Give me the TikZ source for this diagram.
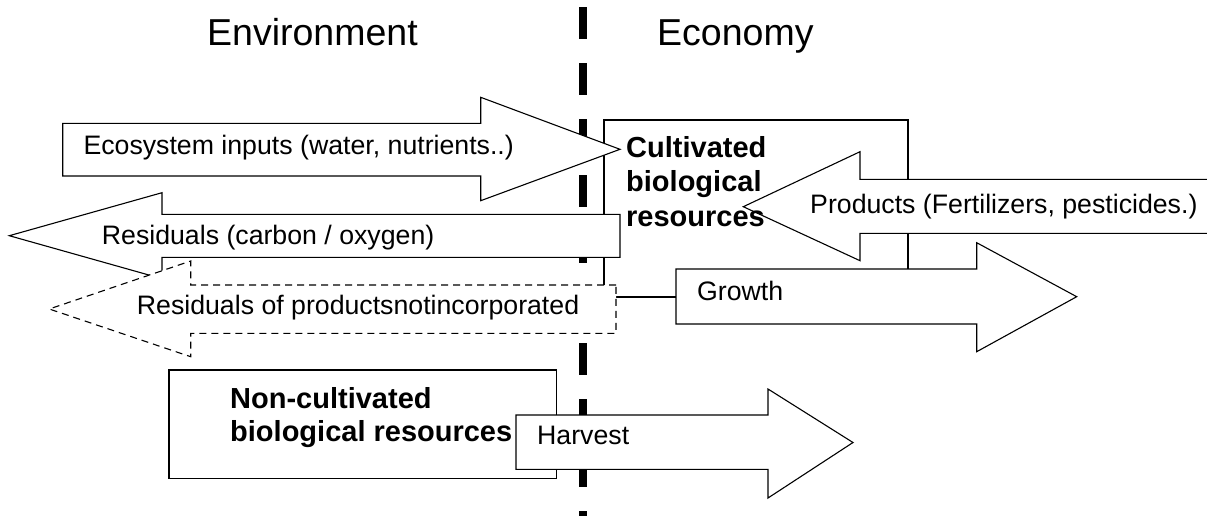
\documentclass[tikz,border=0pt]{standalone}
\usepackage{fontspec}
\setmainfont{Liberation Sans}
\tikzset{
  block/.style={draw, line width=1.1pt, fill=white, line join=miter},
  dblock/.style={block, dash pattern=on 7pt off 5pt},
  txt/.style={anchor=base west, inner sep=0pt, font=\fontsize{26.7}{32}\selectfont},
  boldtxt/.style={txt, font=\fontsize{29}{34}\selectfont\bfseries},
  headtxt/.style={txt, font=\fontsize{37.5}{42}\selectfont}
}
\begin{document}
\begin{tikzpicture}[x=1pt,y=-1pt]
  \useasboundingbox (0,0) rectangle (1207,515);
  % border between environment and economy
  \draw[line width=8pt, dash pattern=on 32pt off 24pt] (583.3,7) -- (583.3,530);
  \node[headtxt] (env) at (207,45) {Environment};
  \node[headtxt] (econ) at (657,45) {Economy};
  % cultivated resources box
  \draw[block] (604,120) rectangle (908,297);
  % ecosystem inputs (to the right)
  \draw[block] (62.7,123.3) -- (480.7,123.3) -- (480.7,97.3) -- (620,149.3)
    -- (480.7,200.7) -- (480.7,176) -- (62.7,176) -- cycle;
  % residuals (to the left)
  \draw[block] (620,214.3) -- (162,214.3) -- (162,192.7) -- (9.3,235.7)
    -- (162,278.7) -- (162,257.3) -- (620,257.3) -- cycle;
  % products (to the left, from outside the page)
  \draw[block] (1209,179.3) -- (860,179.3) -- (860,151.7) -- (743.3,206.7)
    -- (860,260.7) -- (860,233.3) -- (1209,233.3) -- cycle;
  % growth (to the right)
  \draw[block] (676,269) -- (976.7,269) -- (976.7,242.7) -- (1076.7,296.7)
    -- (976.7,351.7) -- (976.7,324) -- (676,324) -- cycle;
  % residuals of products, dashed (to the left)
  \draw[dblock] (616,285) -- (190.7,285) -- (190.7,261) -- (49.3,309)
    -- (190.7,356.7) -- (190.7,333.3) -- (616,333.3) -- cycle;
  % non-cultivated resources box
  \draw[block] (169,370) rectangle (556.7,478.3);
  % harvest (to the right)
  \draw[block] (516,415) -- (768,415) -- (768,389) -- (853,442.5)
    -- (768,498) -- (768,469.3) -- (516,469.3) -- cycle;
  % texts
  \node[txt] (inputs) at (83.3,154) {Ecosystem inputs (water, nutrients..)};
  \node[txt] (resid) at (101.7,244) {Residuals (carbon / oxygen)};
  \node[txt] (residprod) at (136.7,314.3) {Residuals of productsnotincorporated};
  \node[txt] (prod) at (810,213.3) {Products (Fertilizers, pesticides.)};
  \node[txt] (growth) at (697,300) {Growth};
  \node[txt] (harvest) at (537,444) {Harvest};
  \foreach \i/\y/\t in {1/157.7/Cultivated,2/191.7/biological,3/226.7/resources}
    \node[boldtxt] (cult\i) at (626,\y) {\t};
  \node[boldtxt] (noncult1) at (230,408.3) {Non-cultivated};
  \node[boldtxt] (noncult2) at (230,441.7) {biological resources};
\end{tikzpicture}
\end{document}
